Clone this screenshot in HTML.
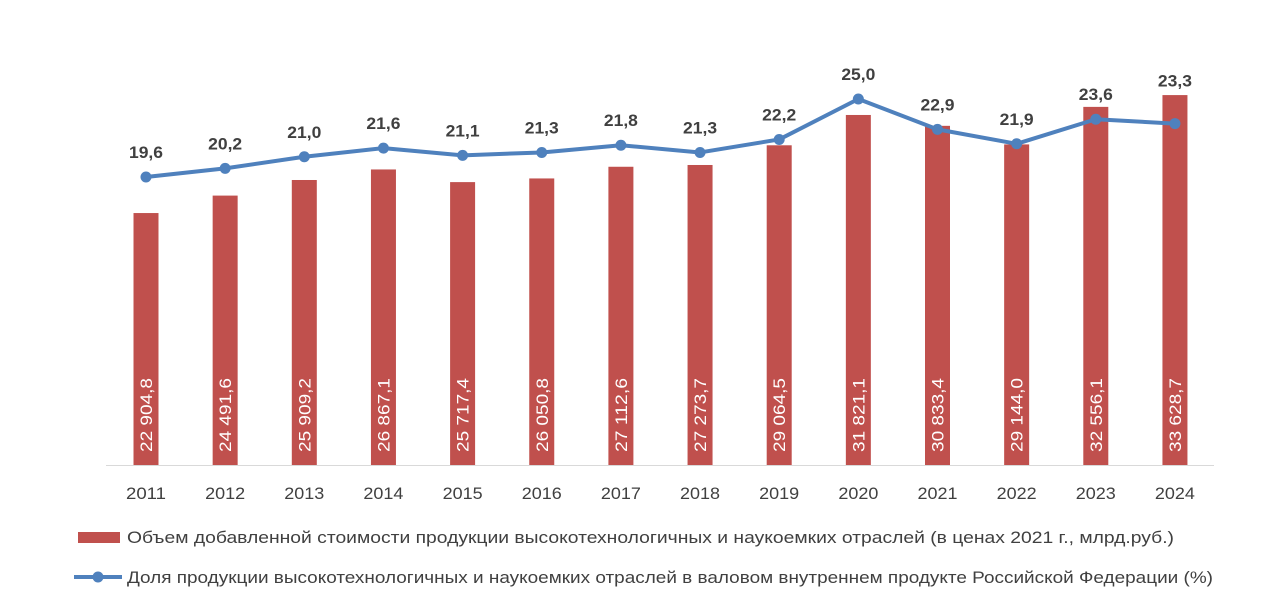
<!DOCTYPE html>
<html><head><meta charset="utf-8"><style>
body{margin:0;background:#fff;}
text{font-family:"Liberation Sans",Arial,sans-serif;}
</style></head><body>
<svg width="1284" height="607" xmlns="http://www.w3.org/2000/svg">
<rect width="1284" height="607" fill="#fff"/>
<line x1="106" y1="465.5" x2="1214" y2="465.5" stroke="#d9d9d9" stroke-width="1"/>
<g id="bars" fill="#c0504d"></g>
<g id="vl" fill="#fff" font-size="17"></g>
<g id="yr" fill="#404040" font-size="17" text-anchor="middle"></g>
<polyline id="ln" fill="none" stroke="#4f81bd" stroke-width="4" stroke-linejoin="round"/>
<g id="pts" fill="#4f81bd"></g>
<g id="pl" fill="#404040" font-size="17" font-weight="bold" text-anchor="middle"></g>
<rect x="78" y="532" width="42" height="11" fill="#c0504d"/>
<text x="127" y="543" font-size="17" fill="#404040" textLength="1047" lengthAdjust="spacingAndGlyphs">Объем добавленной стоимости продукции высокотехнологичных и наукоемких отраслей (в ценах 2021 г., млрд.руб.)</text>
<line x1="74" y1="577" x2="122" y2="577" stroke="#4f81bd" stroke-width="4"/>
<circle cx="98" cy="577" r="5.5" fill="#4f81bd"/>
<text x="127" y="583" font-size="17" fill="#404040" textLength="1086" lengthAdjust="spacingAndGlyphs">Доля продукции высокотехнологичных и наукоемких отраслей в валовом внутреннем продукте Российской Федерации (%)</text>
<script>
var v=[22904.8,24491.6,25909.2,26867.1,25717.4,26050.8,27112.6,27273.7,29064.5,31821.1,30833.4,29144.0,32556.1,33628.7];
var vs=["22 904,8","24 491,6","25 909,2","26 867,1","25 717,4","26 050,8","27 112,6","27 273,7","29 064,5","31 821,1","30 833,4","29 144,0","32 556,1","33 628,7"];
var p=[19.6,20.2,21.0,21.6,21.1,21.3,21.8,21.3,22.2,25.0,22.9,21.9,23.6,23.3];
var ns="http://www.w3.org/2000/svg",pts=[];
function el(g,t,a,tx){var e=document.createElementNS(ns,t);for(var k in a)e.setAttribute(k,a[k]);if(tx)e.textContent=tx;document.getElementById(g).appendChild(e);}
for(var i=0;i<14;i++){var cx=146+i*79.15,h=v[i]*0.011;
el("bars","rect",{x:cx-12.5,y:465-h,width:25,height:h});
el("vl","text",{x:0,y:0,transform:"translate("+(cx+6)+",452) rotate(-90)",textLength:74,lengthAdjust:"spacingAndGlyphs"},vs[i]);
el("yr","text",{x:cx,y:499,textLength:40,lengthAdjust:"spacingAndGlyphs"},String(2011+i));
var y=177-(p[i]-19.6)*14.44;pts.push(cx+","+y);
el("pts","circle",{cx:cx,cy:y,r:5.5});
el("pl","text",{x:cx,y:(i==13?y-37:y-19),textLength:34,lengthAdjust:"spacingAndGlyphs"},p[i].toFixed(1).replace(".",","));}
document.getElementById("ln").setAttribute("points",pts.join(" "));
</script>
</svg>
</body></html>
